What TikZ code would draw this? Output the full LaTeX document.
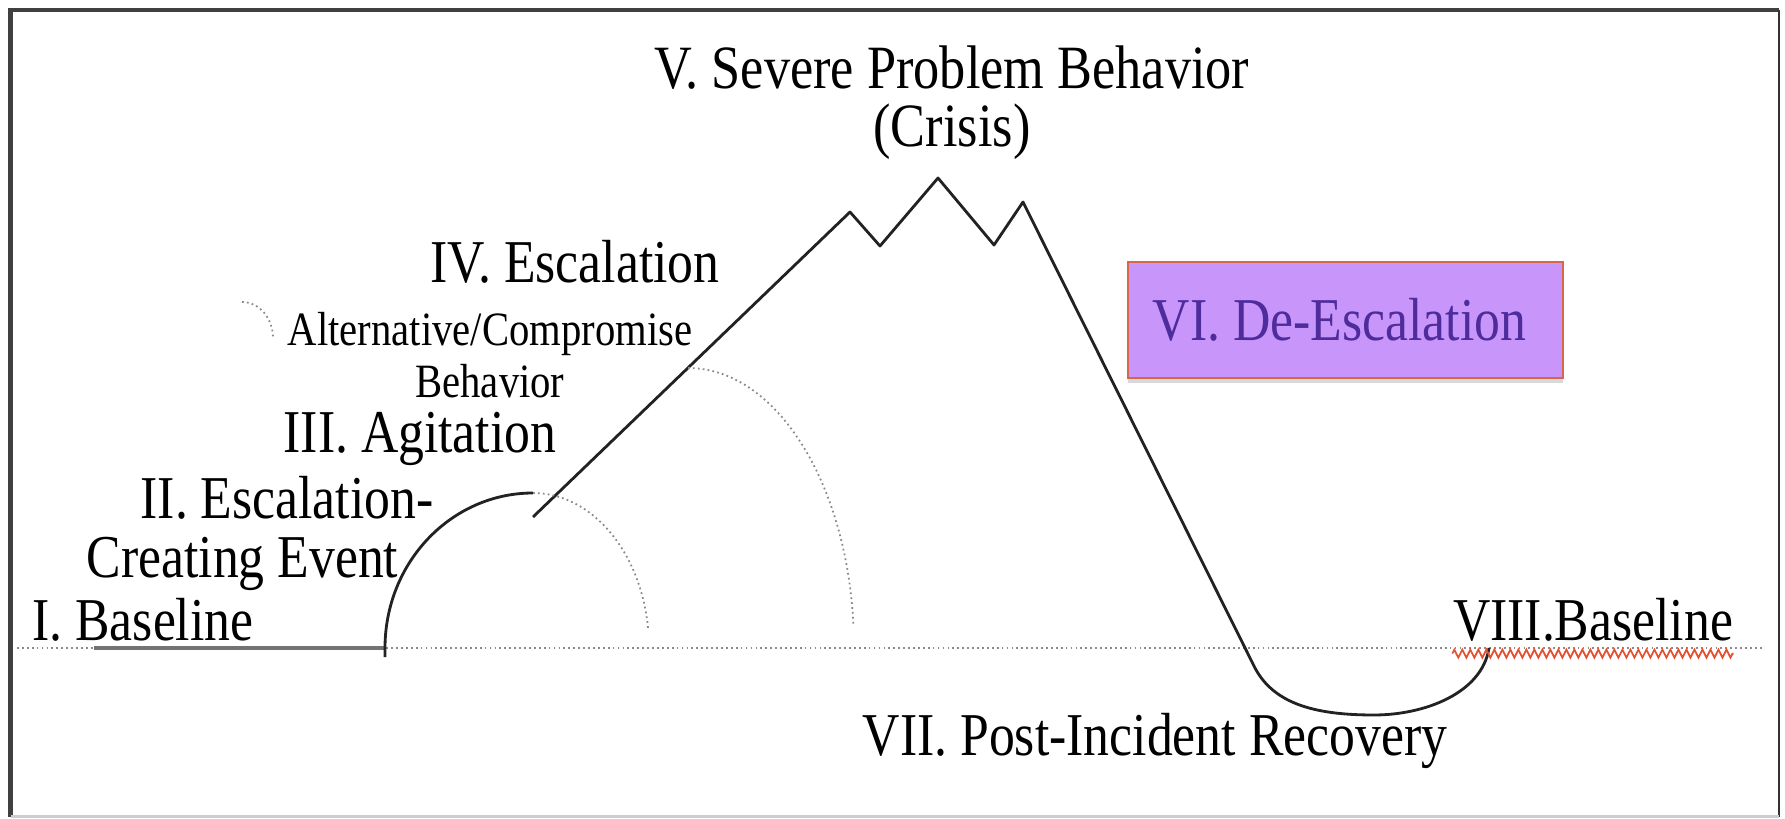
\documentclass[tikz,border=0pt]{standalone}
\usepackage{fontspec}
\setmainfont{Liberation Serif}[FakeStretch=0.85]
\usetikzlibrary{shadows, decorations.pathmorphing}
\definecolor{dkline}{HTML}{222222}
\definecolor{dotgray}{HTML}{8A8A8A}
\definecolor{lilac}{HTML}{C896FA}
\definecolor{rust}{HTML}{D8674A}
\definecolor{indigo}{HTML}{4F2C9C}
\definecolor{squig}{HTML}{E5502E}

\begin{document}
\begin{tikzpicture}[x=0.01cm, y=0.01cm,
  curve/.style={dkline, line width=0.8pt, line join=round},
  dotarc/.style={dotgray, line width=0.5pt, dash pattern=on 0.5pt off 0.9pt},
  lbl/.style={inner sep=0pt, font=\fontsize{17.3}{16.8}\selectfont, align=center},
  sublbl/.style={inner sep=0pt, font=\fontsize{13.6}{14.8}\selectfont, align=center},
  deesc box/.style={draw=rust, line width=0.7pt, fill=lilac, text=indigo,
    minimum height=1.16cm, text width=3.85cm, inner xsep=0.25cm, align=flush left,
    font=\fontsize{17.3}{20}\selectfont,
    drop shadow={shadow xshift=0pt, shadow yshift=-0.05cm, opacity=0.3}}]

\useasboundingbox (0,0) rectangle (1785,818);

% Frame
\draw[black!75, line width=1.2pt] (10.5,1.5) -- (10.5,808) -- (1779,808);
\draw[black!80, line width=0.6pt] (1779,808) -- (1779,1.5);
\draw[black!20, line width=0.6pt] (10.5,1.5) -- (1779,1.5);

% Baseline
\draw[dotarc] (17,170) -- (1762,170);
\draw[black!55, line width=0.9pt] (94,170) -- (385,170);

% Path points
\coordinate (esc0) at (533,301);
\coordinate (pk1) at (850,606);
\coordinate (vl1) at (880,572);
\coordinate (pk2) at (938,640);
\coordinate (vl2) at (994,573);
\coordinate (pk3) at (1023,616);
\coordinate (low) at (1255,150);
\coordinate (rcv) at (1374,103);
\coordinate (back) at (1489,170);

% Agitation arc
\draw[curve] (385,161) -- (385,170) arc[start angle=180, end angle=90, x radius=148, y radius=155];

% Escalation, crisis, de-escalation, recovery
\draw[curve] (esc0) -- (pk1) -- (vl1) -- (pk2) -- (vl2) -- (pk3) -- (low)
  .. controls (1275,112) and (1320,103) .. (rcv)
  .. controls (1425,103) and (1482,125) .. (back);

% Alternative paths
\draw[dotarc] (533,325) arc[start angle=90, end angle=7, x radius=116, y radius=155];
\draw[dotarc] (688,450) arc[start angle=90, end angle=4.5, x radius=166, y radius=280];
\draw[dotarc] (242,516) arc[start angle=90, end angle=0, x radius=31, y radius=36];

% Labels
\node[lbl, font=\fontsize{17.5}{16.6}\selectfont, anchor=north] (sevr) at (952,773)
  {V. Severe Problem Behavior\\(Crisis)};
\node[lbl, anchor=base] (esc4) at (575,535) {IV. Escalation};
\node[sublbl, anchor=north] (alt) at (490,506) {Alternative/Compromise\\Behavior};
\node[lbl, anchor=base] (agit) at (420,365) {III. Agitation};
\node[lbl, align=flush left, anchor=north west] (ecev) at (86,342)
  {\hspace*{0.54cm}II. Escalation-\\Creating Event};
\node[lbl, anchor=base] (base1) at (143,178) {I. Baseline};
\node[lbl, anchor=base] (base8) at (1593,178) {VIII.Baseline};
\node[lbl, anchor=base] (recov) at (1155,63) {VII. Post-Incident Recovery};
\node[deesc box] (deesc) at (1345.5,498) {VI. De-Escalation};

% Spelling mark
\draw[squig, line width=0.5pt, decorate, decoration={zigzag, amplitude=0.04cm, segment length=0.08cm}]
  ([yshift=-0.12cm]base8.south west) -- ([yshift=-0.12cm]base8.south east);

\end{tikzpicture}
\end{document}
